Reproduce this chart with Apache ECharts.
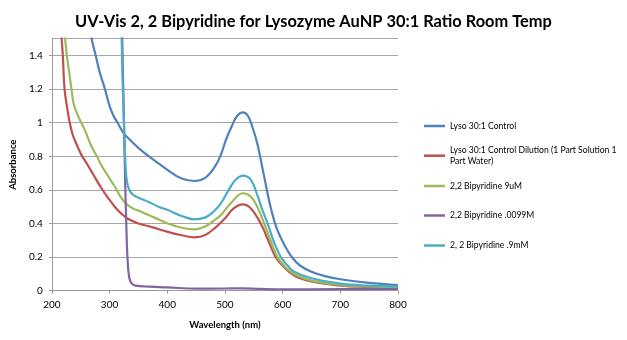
<!DOCTYPE html>
<html>
<head>
<meta charset="utf-8">
<script src="https://cdn.jsdelivr.net/npm/echarts@6/dist/echarts.min.js"></script>
<style>html,body{margin:0;padding:0;background:#fff}#c{width:627px;height:340px}</style>
</head>
<body>
<div id="c"></div>
<script>
var titleText = 'UV-Vis 2, 2 Bipyridine for Lysozyme AuNP 30:1 Ratio Room Temp';
var xName = 'Wavelength (nm)';
var yName = 'Absorbance';
var seriesNames = ['Lyso 30:1 Control', 'Lyso 30:1 Control Dilution (1 Part Solution 1 Part Water)', '2,2 Bipyridine 9uM', '2,2 Bipyridine .0099M', '2, 2 Bipyridine .9mM'];
var seriesColors = ['#4F81BD', '#C0504D', '#9BBB59', '#8064A2', '#4BACC6'];

var controlWl = [262,269,276,283,292,300,307,314,324,335,355,380,401,424,447,465,482,493,502,512,521,531,540,548,556,568,579,591,605,616,630,650,675,700,750,800];
var controlAbs = [1.7,1.5,1.4,1.3,1.2,1.1,1.04,1.0,0.94,0.9,0.835,0.77,0.718,0.669,0.653,0.67,0.735,0.81,0.9,0.98,1.04,1.062,1.04,0.97,0.877,0.68,0.5,0.36,0.26,0.2,0.15,0.113,0.085,0.068,0.047,0.034];

var dilutionWl = [214,217,219,222,226,231,236,243,251,260,272,286,298,309,320,331,350,372,401,425,447,465,485,500,515,531,545,562,575,588,600,620,650,700,750,800];
var dilutionAbs = [1.7,1.5,1.4,1.2,1.1,1.0,0.93,0.87,0.81,0.76,0.69,0.61,0.55,0.5,0.46,0.43,0.4,0.38,0.35,0.33,0.318,0.33,0.38,0.43,0.49,0.514,0.49,0.4,0.3,0.2,0.15,0.09,0.055,0.03,0.022,0.018];

var bipy9uMWl = [219,223,226,230,234,238,246,257,269,278,286,296,309,318,328,340,355,378,401,425,447,465,482,493,510,531,545,556,568,580,591,605,620,650,700,750,800];
var bipy9uMAbs = [1.7,1.5,1.4,1.3,1.2,1.11,1.036,0.957,0.857,0.8,0.745,0.69,0.62,0.565,0.52,0.49,0.47,0.435,0.4,0.375,0.365,0.38,0.42,0.45,0.52,0.58,0.56,0.5,0.4,0.29,0.2,0.14,0.1,0.06,0.035,0.025,0.02];

var bipy0099MWl = [321,322,325,327,329,331,334,338,345,370,400,450,500,530,560,600,700,800];
var bipy0099MAbs = [1.7,1.5,1.0,0.66,0.4,0.2,0.08,0.045,0.03,0.024,0.02,0.012,0.013,0.014,0.011,0.008,0.009,0.01];

var bipy9mMWl = [320,321,323,325,327,329,332,336,341,352,367,385,401,425,447,465,480,493,510,520,531,545,556,565,574,585,597,610,620,650,700,750,800];
var bipy9mMAbs = [1.7,1.5,1.2,1.0,0.8,0.68,0.62,0.59,0.57,0.55,0.53,0.5,0.48,0.445,0.425,0.435,0.47,0.52,0.62,0.665,0.685,0.66,0.57,0.48,0.4,0.29,0.2,0.145,0.113,0.074,0.042,0.03,0.024];

var xTicks = [200,300,400,500,600,700,800];
var yTicks = [0,0.2,0.4,0.6,0.8,1,1.2,1.4];

function pairs(wl, ab){ return wl.map(function(w,i){ return [w, ab[i]]; }); }
var allData = [pairs(controlWl, controlAbs), pairs(dilutionWl, dilutionAbs), pairs(bipy9uMWl, bipy9uMAbs), pairs(bipy0099MWl, bipy0099MAbs), pairs(bipy9mMWl, bipy9mMAbs)];

var FONT = 'Lato';
var LFS = 8.6;
var legendCenters = [121, 150.7, 181, 210.5, 240.5];
var legends = seriesNames.map(function(n, i){
  var two = (i === 1);
  return {
    data: [n], left: 419, top: two ? legendCenters[i] - 16.5 : legendCenters[i] - 6,
    orient: 'vertical', icon: 'rect', itemWidth: 21, itemHeight: 2.5,
    selectedMode: false,
    formatter: two ? function(){ return 'Lyso 30:1 Control Dilution (1 Part Solution 1\nPart Water)'; } : null,
    textStyle: two ? { fontFamily: FONT, fontSize: LFS, color: '#000', lineHeight: 11, padding: [11,0,0,0] } : { fontFamily: FONT, fontSize: LFS, color: '#000', lineHeight: 12 }
  };
});

var chart = echarts.init(document.getElementById('c'), null, {renderer: 'canvas'});
chart.setOption({
  animation: false,
  backgroundColor: '#fff',
  title: { text: titleText, left: 'center', top: 7, textStyle: { fontFamily: FONT, fontSize: 16.4, fontWeight: 'bold', color: '#000', lineHeight: 20 } },
  legend: legends,
  grid: { left: 50, right: 229, top: 38.7, bottom: 49.3, containLabel: false },
  xAxis: {
    type: 'value', min: 200, max: 800, interval: 100,
    name: xName, nameLocation: 'middle', nameGap: 29,
    nameTextStyle: { fontFamily: FONT, fontSize: 9.5, fontWeight: 'bold', color: '#000' },
    axisLine: { lineStyle: { color: '#999', width: 1 } },
    axisTick: { show: true, length: 3, lineStyle: { color: '#999' } },
    axisLabel: { fontFamily: FONT, fontSize: 10, color: '#000', margin: 9, formatter: function(v){ return xTicks.indexOf(v) >= 0 ? String(v) : ''; } },
    splitLine: { show: false }
  },
  yAxis: {
    type: 'value', min: 0, max: 1.5, interval: 0.2,
    name: yName, nameLocation: 'middle', nameGap: 31, nameRotate: 90,
    nameTextStyle: { fontFamily: FONT, fontSize: 9.5, fontWeight: 'bold', color: '#000' },
    axisLine: { show: true, lineStyle: { color: '#999', width: 1 } },
    axisTick: { show: true, length: 3, lineStyle: { color: '#999' } },
    axisLabel: { fontFamily: FONT, fontSize: 10, color: '#000', margin: 9, showMaxLabel: false, formatter: function(v){ var r = Math.round(v*10)/10; return yTicks.indexOf(r) >= 0 ? String(r) : ''; } },
    splitLine: { show: true, lineStyle: { color: '#a6a6a6', width: 1 } }
  },
  series: seriesNames.map(function(n, i){
    return { name: n, type: 'line', data: allData[i], showSymbol: false, smooth: 0.4, clip: true,
      lineStyle: { color: seriesColors[i], width: 2.2 }, itemStyle: { color: seriesColors[i] } };
  })
});
</script>
</body>
</html>
